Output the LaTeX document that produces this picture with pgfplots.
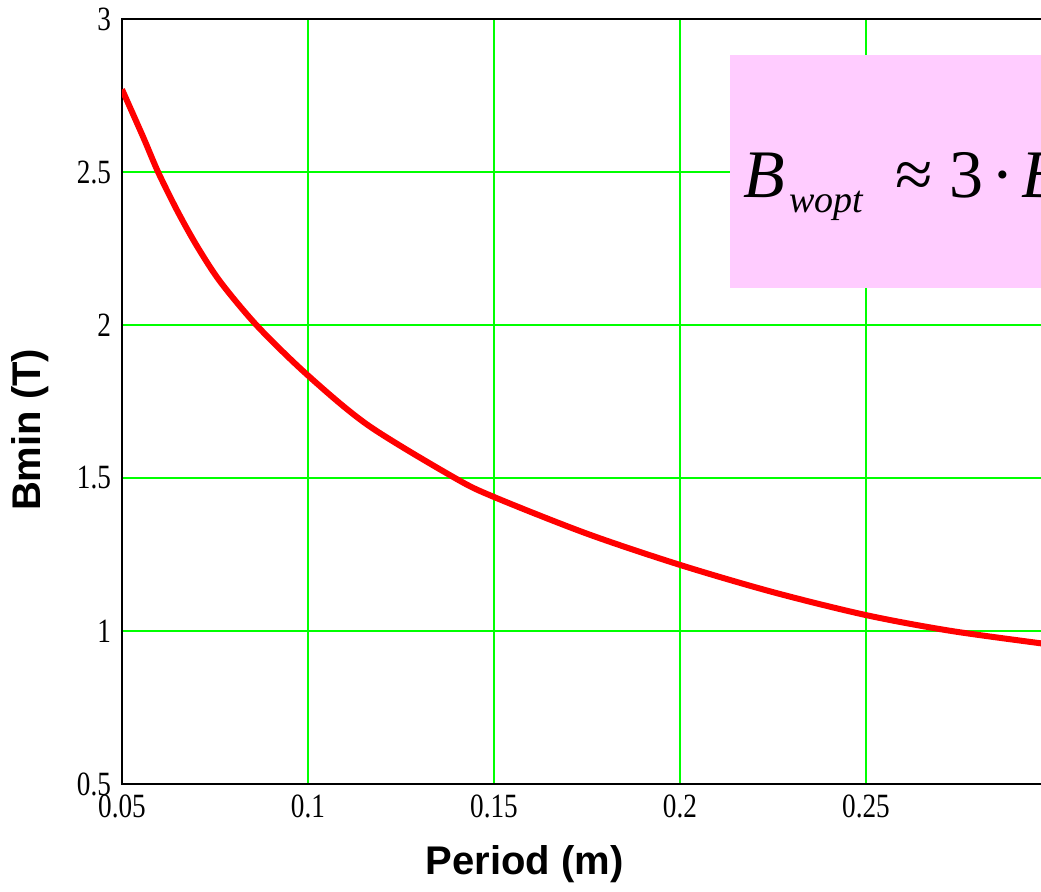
\documentclass[border=0pt]{standalone}
\usepackage{fontspec}
\setmainfont{Liberation Serif}
\newfontfamily\lsans{Liberation Sans}
\usepackage{graphicx}
\usepackage{pgfplots}
\pgfplotsset{compat=1.18}
\definecolor{gridgreen}{RGB}{0,255,0}
\definecolor{boxpink}{RGB}{255,204,255}
\newcommand\tl[1]{\scalebox{0.8}[1]{#1}}

\begin{document}
\begin{tikzpicture}
% crop the picture like the reference (right side cut off)
\path[use as bounding box, clip] (-61pt,-53.5pt) rectangle (459.5pt,392pt);
\begin{axis}[
  at={(0,0)}, anchor=south west,
  scale only axis, width=465pt, height=382.5pt,
  xmin=0.05, xmax=0.3, ymin=0.5, ymax=3,
  xtick={0.05,0.1,0.15,0.2,0.25},
  xticklabels={\tl{0.05},\tl{0.1},\tl{0.15},\tl{0.2},\tl{0.25}},
  ytick={0.5,1,1.5,2,2.5,3},
  yticklabels={\tl{0.5},\tl{1},\tl{1.5},\tl{2},\tl{2.5},\tl{3}},
  major tick length=0pt,
  grid=major,
  major grid style={gridgreen, line width=1pt},
  axis line style={black, line width=1pt},
  tick label style={font=\fontsize{17}{17}\selectfont},
  xticklabel style={yshift=-2pt},
  yticklabel style={xshift=-2pt},
  xlabel={Period (m)},
  ylabel={Bmin (T)},
  label style={font=\lsans\bfseries\fontsize{20}{20}\selectfont},
  xlabel style={at={(axis description cs:0.433,-0.105)}, anchor=center},
  ylabel style={at={(axis description cs:-0.099,0.463)}, anchor=center},
]
\fill[boxpink] (rel axis cs:0.654,0.648) rectangle (rel axis cs:1.05,0.953);
\node[anchor=base west, inner sep=0pt, font=\fontsize{34}{34}\selectfont]
  at (rel axis cs:0.668,0.767)
  {\textit{B}\hspace{2pt}\raisebox{-7.5pt}{\fontsize{19}{19}\selectfont\textit{wopt}}\hspace{16pt}≈\hspace{8pt}3\hspace{4pt}·\hspace{4pt}\textit{B}\raisebox{-7.5pt}{\fontsize{19}{19}\selectfont\textit{min}}};
\addplot[red, line width=3pt, smooth, tension=0.5] coordinates {
  (0.0500,2.770) (0.0557,2.614) (0.0597,2.500) (0.0650,2.370)
  (0.0703,2.255) (0.0765,2.140) (0.0865,1.995)
  (0.1000,1.835) (0.1162,1.672) (0.1395,1.500) (0.1500,1.438)
  (0.1750,1.318) (0.2000,1.216) (0.2250,1.127)
  (0.2500,1.052) (0.2730,1.000) (0.3000,0.955)
};
\end{axis}
\end{tikzpicture}
\end{document}
